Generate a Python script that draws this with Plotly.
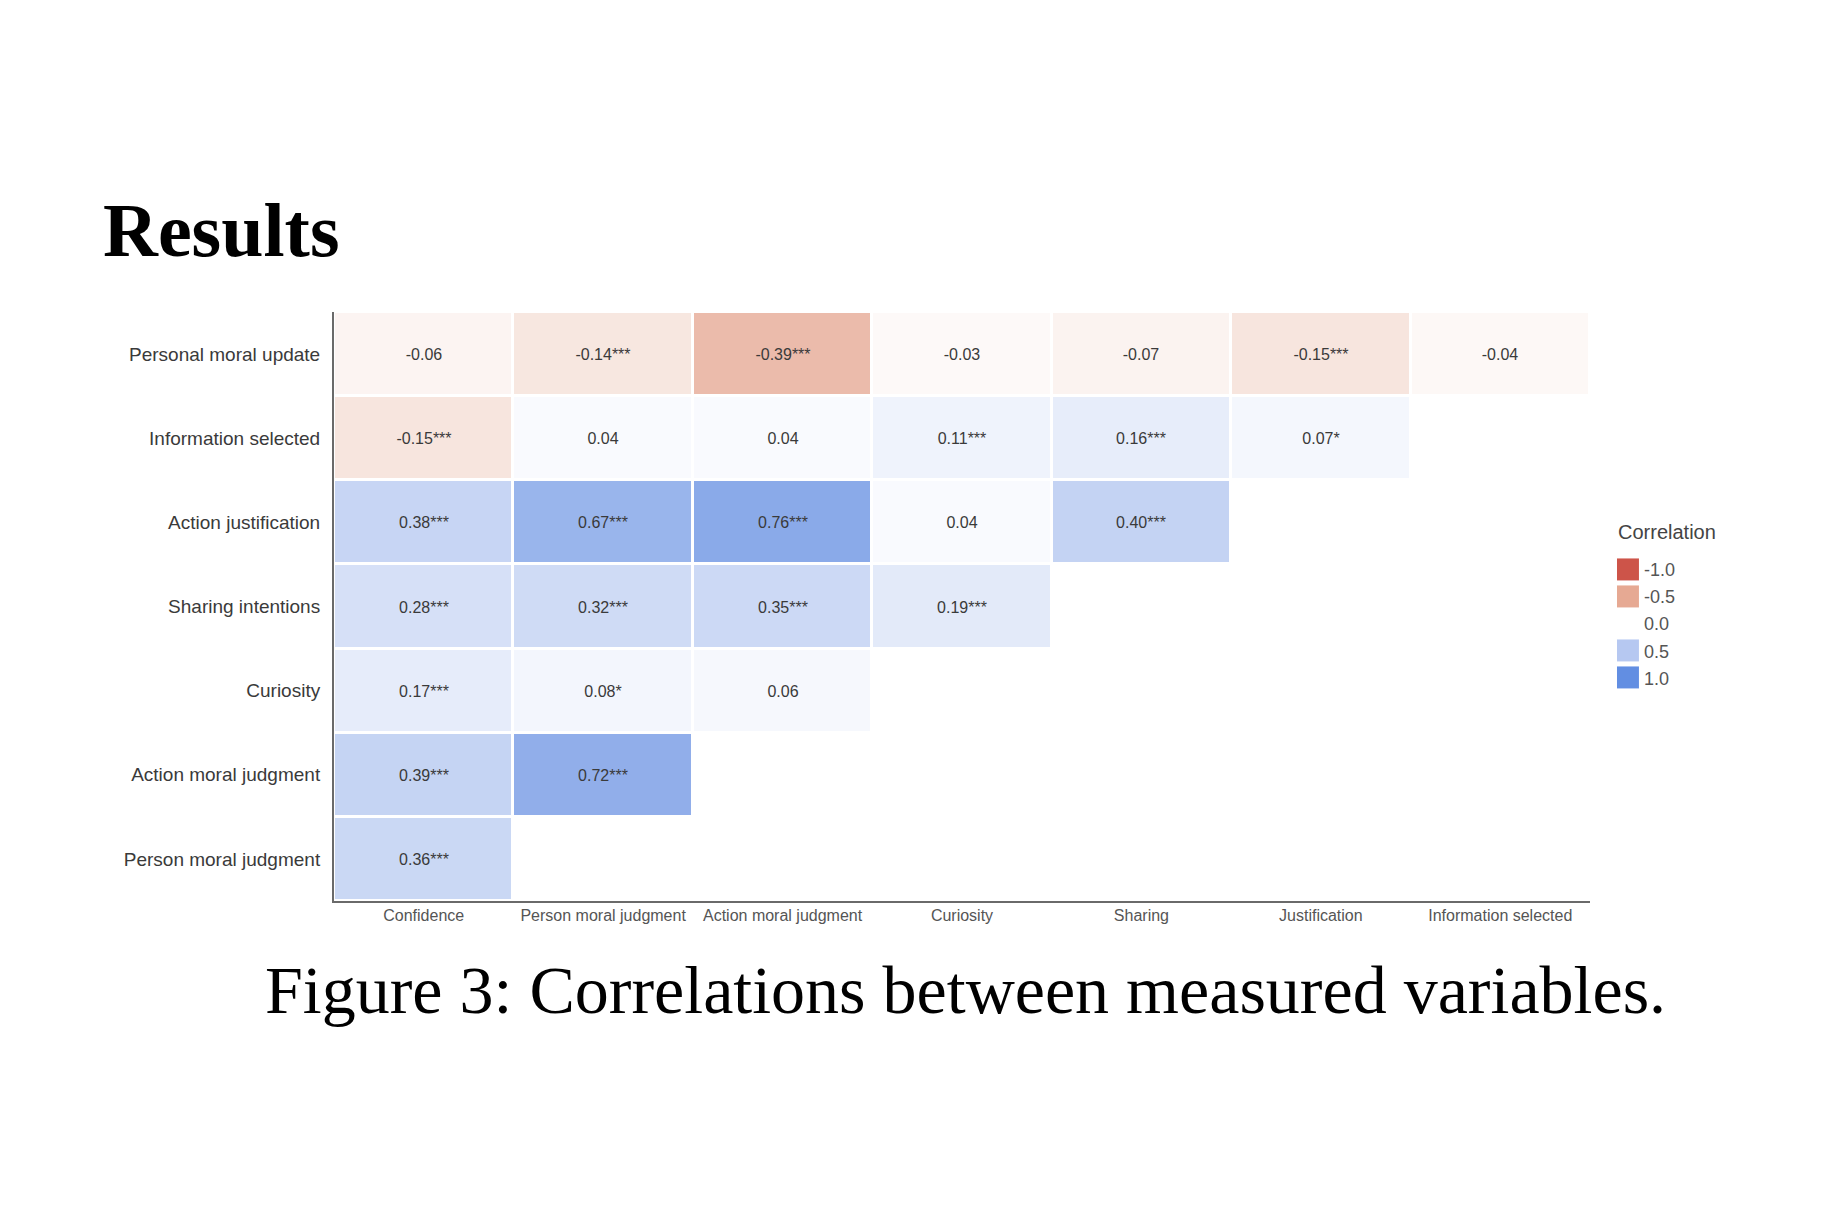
import plotly.graph_objects as go

# correlation matrix (lower triangle), rows top to bottom
row_names = ["Personal moral update", "Information selected", "Action justification",
             "Sharing intentions", "Curiosity", "Action moral judgment", "Person moral judgment"]
col_names = ["Confidence", "Person moral judgment", "Action moral judgment", "Curiosity",
             "Sharing", "Justification", "Information selected"]

r_personal_update = [-0.06, -0.14, -0.39, -0.03, -0.07, -0.15, -0.04]
r_info_selected = [-0.15, 0.04, 0.04, 0.11, 0.16, 0.07, None]
r_action_justif = [0.38, 0.67, 0.76, 0.04, 0.40, None, None]
r_sharing = [0.28, 0.32, 0.35, 0.19, None, None, None]
r_curiosity = [0.17, 0.08, 0.06, None, None, None, None]
r_action_judg = [0.39, 0.72, None, None, None, None, None]
r_person_judg = [0.36, None, None, None, None, None, None]

s_personal_update = ["", "***", "***", "", "", "***", ""]
s_info_selected = ["***", "", "", "***", "***", "*", ""]
s_action_justif = ["***", "***", "***", "", "***", "", ""]
s_sharing = ["***", "***", "***", "***", "", "", ""]
s_curiosity = ["***", "*", "", "", "", "", ""]
s_action_judg = ["***", "***", "", "", "", "", ""]
s_person_judg = ["***", "", "", "", "", "", ""]

legend_vals = [-1.0, -0.5, 0.0, 0.5, 1.0]
legend_labels = ["-1.0", "-0.5", "0.0", "0.5", "1.0"]

z = [r_personal_update, r_info_selected, r_action_justif, r_sharing,
     r_curiosity, r_action_judg, r_person_judg]
stars = [s_personal_update, s_info_selected, s_action_justif, s_sharing,
         s_curiosity, s_action_judg, s_person_judg]

text = []
for zr, sr in zip(z, stars):
	text.append(["" if v is None else "{:.2f}{}".format(v, s) for v, s in zip(zr, sr)])

cscale = [[0, "#c9463a"], [0.25, "#e4a28a"], [0.5, "#ffffff"], [0.75, "#b0c4f0"], [1, "#5585e0"]]

fig = go.Figure()
fig.add_trace(go.Heatmap(
	z=z, x=col_names, y=row_names, text=text, texttemplate="%{text}",
	textfont=dict(family="Liberation Sans, Arial", size=16, color="#3a3a3a"),
	colorscale=cscale, zmin=-1, zmax=1, showscale=False,
	xgap=3, ygap=3, hoverongaps=False, opacity=0.92,
	))
# legend keys
fig.add_trace(go.Heatmap(
	z=[[v] for v in legend_vals], x=["k"], y=legend_labels,
	colorscale=cscale, zmin=-1, zmax=1, showscale=False,
	xaxis="x2", yaxis="y2", ygap=5, opacity=0.92,
	))

fig.update_layout(
	autosize=False,
	width=1828,
	height=1220,
	plot_bgcolor="white",
	paper_bgcolor="white",
	margin=go.layout.Margin(l=326, r=60, t=304, b=327),
	xaxis=dict(
		domain=[0, 0.871],
		showline=True, linewidth=2, linecolor="#6a6a6a",
		showgrid=False, zeroline=False, ticks="",
		ticklabelstandoff=-1,
		tickfont=dict(family="Liberation Sans, Arial", size=16, color="#555555"),
		),
	yaxis=dict(
		autorange="reversed",
		showline=True, linewidth=2, linecolor="#6a6a6a",
		showgrid=False, zeroline=False, ticks="",
		ticklabelstandoff=8,
		tickfont=dict(family="Liberation Sans, Arial", size=19, color="#3a3a3a"),
		),
	xaxis2=dict(
		domain=[0.8897, 0.905], anchor="y2",
		showticklabels=False, showgrid=False, zeroline=False, showline=False,
		),
	yaxis2=dict(
		domain=[0.355, 0.585], anchor="x2", side="right",
		autorange="reversed", showgrid=False, zeroline=False, showline=False,
		ticks="", ticklabelstandoff=4,
		tickfont=dict(family="Liberation Sans, Arial", size=18, color="#555555"),
		),
	annotations=[
		dict(text="<b>Results</b>", xref="paper", yref="paper", x=-0.1616, y=1.139,
			xanchor="left", yanchor="middle", showarrow=False,
			font=dict(family="Liberation Serif, Times New Roman", size=76, color="black")),
		dict(text="Figure 3: Correlations between measured variables.", xref="paper", yref="paper",
			x=0.4376, y=-0.151, xanchor="center", yanchor="middle", showarrow=False,
			font=dict(family="Liberation Serif, Times New Roman", size=68, color="black")),
		dict(text="Correlation", xref="paper", yref="paper", x=0.889, y=0.6265,
			xanchor="left", yanchor="middle", showarrow=False,
			font=dict(family="Liberation Sans, Arial", size=20, color="#444444")),
		],
	)

fig.write_html("out.html")
